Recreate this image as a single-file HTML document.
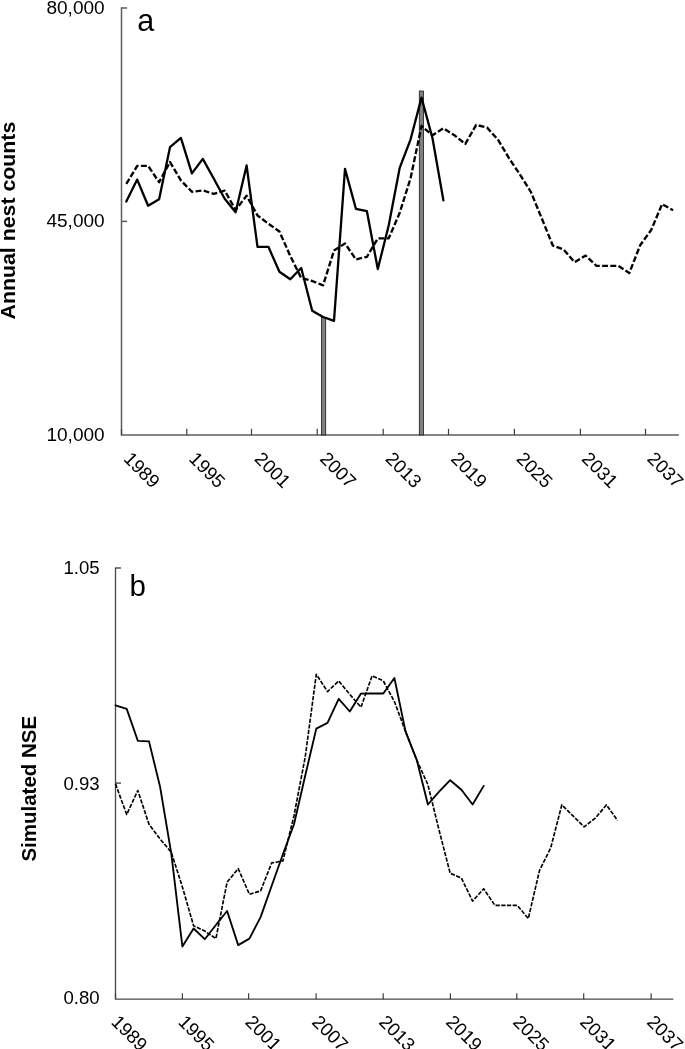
<!DOCTYPE html>
<html><head><meta charset="utf-8"><title>Figure</title>
<style>
html,body{margin:0;padding:0;background:#fff;}
svg{display:block}
text{font-family:"Liberation Sans",Arial,sans-serif;fill:#000}
</style></head><body>
<svg width="685" height="1049" viewBox="0 0 685 1049">
<rect width="685" height="1049" fill="#fff"/>

<g stroke="#5e5e5e" stroke-width="1.5" fill="none">
<path d="M121.5,7.3 V435.0 H678.8"/>
<path d="M121.5,8.0 h5.6"/>
<path d="M121.5,221.4 h5.6"/>
</g>
<g stroke="#3c3c3c" stroke-width="1.2" fill="none">
<path d="M121.5,435.0 v-6.2"/>
<path d="M186.8,435.0 v-6.2"/>
<path d="M251.5,435.0 v-6.2"/>
<path d="M317.2,435.0 v-6.2"/>
<path d="M383.2,435.0 v-6.2"/>
<path d="M448.5,435.0 v-6.2"/>
<path d="M514.4,435.0 v-6.2"/>
<path d="M580.4,435.0 v-6.2"/>
<path d="M645.5,435.0 v-6.2"/>
</g>
<rect x="321.40" y="317.5" width="4.3" height="117.5" fill="#808080" stroke="#1a1a1a" stroke-width="0.8"/>
<rect x="419.30" y="91.0" width="4.3" height="344.0" fill="#808080" stroke="#1a1a1a" stroke-width="0.8"/>
<polyline points="126.3,183.9 137.2,165.9 148.1,165.9 159.1,182.2 170.0,162.0 180.9,180.4 191.9,191.8 202.8,190.4 213.7,193.9 224.7,190.6 235.6,210.0 246.6,195.7 257.5,215.5 268.4,223.7 279.4,231.5 290.3,256.0 301.2,278.0 312.2,281.0 323.1,285.3 334.0,250.6 345.0,243.4 355.9,259.4 366.9,256.8 377.8,238.4 388.7,238.4 399.7,212.8 410.6,178.1 421.5,126.0 432.5,135.2 443.4,128.3 454.3,135.2 465.3,143.9 476.2,124.9 487.1,127.6 498.1,139.9 509.0,158.2 520.0,174.6 530.9,192.0 541.8,218.5 552.8,245.5 563.7,249.6 574.6,262.2 585.6,255.6 596.5,265.8 607.4,265.8 618.4,265.8 629.3,273.0 640.3,245.0 651.2,230.0 662.1,204.1 673.1,210.2" fill="none" stroke="#000" stroke-width="2.35" stroke-dasharray="5.9,2.35" stroke-linejoin="round"/>
<polyline points="126.3,201.5 137.2,179.6 148.1,205.8 159.1,199.2 170.0,147.2 180.9,137.9 191.9,173.4 202.8,158.9 213.7,178.5 224.7,198.7 235.6,212.2 246.6,165.4 257.5,246.8 268.4,246.8 279.4,271.8 290.3,279.2 301.2,268.0 312.2,310.7 323.1,317.0 334.0,320.9 345.0,168.9 355.9,208.8 366.9,211.2 377.8,269.0 388.7,225.5 399.7,167.9 410.6,139.3 421.5,97.6 432.5,138.2 443.4,200.4" fill="none" stroke="#000" stroke-width="2.3" stroke-linejoin="round" stroke-linecap="round"/>
<text transform="translate(104.6,13.7) scale(1.023,1)" font-size="18.6" text-anchor="end">80,000</text>
<text transform="translate(104.6,226.7) scale(1.023,1)" font-size="18.6" text-anchor="end">45,000</text>
<text transform="translate(104.6,440.6) scale(1.023,1)" font-size="18.6" text-anchor="end">10,000</text>
<text x="137.2" y="30.6" font-size="30.5">a</text>
<text transform="translate(15.1,220.6) rotate(-90) scale(1.04,1)" font-size="20.5" font-weight="bold" text-anchor="middle">Annual nest counts</text>
<text transform="translate(122.7,459.8) rotate(45)" font-size="18.67">1989</text>
<text transform="translate(188.1,459.8) rotate(45)" font-size="18.67">1995</text>
<text transform="translate(253.6,459.8) rotate(45)" font-size="18.67">2001</text>
<text transform="translate(319.0,459.8) rotate(45)" font-size="18.67">2007</text>
<text transform="translate(384.5,459.8) rotate(45)" font-size="18.67">2013</text>
<text transform="translate(449.9,459.8) rotate(45)" font-size="18.67">2019</text>
<text transform="translate(515.4,459.8) rotate(45)" font-size="18.67">2025</text>
<text transform="translate(580.8,459.8) rotate(45)" font-size="18.67">2031</text>
<text transform="translate(646.3,459.8) rotate(45)" font-size="18.67">2037</text>
<g stroke="#484848" stroke-width="1.3" fill="none">
<path d="M115.5,567.4 V999.2 H673.3"/>
<path d="M115.5,568.0 h5.5" stroke="#383838"/>
<path d="M115.5,783.1 h5.5" stroke="#383838"/>
</g>
<g stroke="#3c3c3c" stroke-width="1.2" fill="none">
<path d="M115.5,999.2 v-6"/>
<path d="M182.4,999.2 v-6"/>
<path d="M248.6,999.2 v-6"/>
<path d="M316.1,999.2 v-6"/>
<path d="M383.2,999.2 v-6"/>
<path d="M450.4,999.2 v-6"/>
<path d="M516.8,999.2 v-6"/>
<path d="M583.7,999.2 v-6"/>
<path d="M651.1,999.2 v-6"/>
</g>
<polyline points="115.5,783.9 126.7,814.5 137.8,790.5 149.0,824.3 160.1,839.0 171.3,852.3 182.4,887.0 193.6,925.8 204.8,931.1 215.9,938.6 227.1,882.2 238.2,868.6 249.4,894.3 260.6,890.9 271.7,862.9 282.9,860.9 294.0,815.7 305.2,757.1 316.3,674.3 327.5,691.6 338.7,680.9 349.8,694.4 361.0,707.2 372.1,675.8 383.3,680.9 394.4,701.5 405.6,731.6 416.8,760.2 427.9,784.7 439.1,830.3 450.2,873.3 461.4,878.1 472.6,901.1 483.7,888.8 494.9,905.3 506.0,905.3 517.2,905.3 528.3,918.5 539.5,870.5 550.7,847.9 561.8,804.9 573.0,815.9 584.1,826.9 595.3,818.1 606.5,804.9 617.6,820.6" fill="none" stroke="#000" stroke-width="1.65" stroke-dasharray="4.25,1.45" stroke-linejoin="round"/>
<polyline points="115.5,705.3 126.7,708.9 137.8,740.8 149.0,741.4 160.1,786.9 171.3,853.7 182.4,946.6 193.6,928.5 204.8,939.2 215.9,925.0 227.1,911.0 238.2,945.1 249.4,938.6 260.6,917.1 271.7,885.7 282.9,854.3 294.0,824.3 305.2,775.7 316.3,728.6 327.5,722.9 338.7,698.9 349.8,711.5 361.0,693.6 372.1,693.5 383.3,693.5 394.4,678.0 405.6,731.6 416.8,760.2 427.9,804.5 439.1,791.7 450.2,780.2 461.4,789.7 472.6,804.5 483.7,785.9" fill="none" stroke="#000" stroke-width="1.85" stroke-linejoin="round" stroke-linecap="round"/>
<text transform="translate(99.7,573.85)" font-size="18.6" text-anchor="end">1.05</text>
<text transform="translate(99.7,789.55)" font-size="18.6" text-anchor="end">0.93</text>
<text transform="translate(99.7,1004.25)" font-size="18.6" text-anchor="end">0.80</text>
<text x="129.5" y="595.8" font-size="29.5">b</text>
<text transform="translate(35.5,788.7) rotate(-90)" font-size="20.5" font-weight="bold" text-anchor="middle">Simulated NSE</text>
<text transform="translate(110.3,1022.9) rotate(45)" font-size="18.67">1989</text>
<text transform="translate(177.2,1022.9) rotate(45)" font-size="18.67">1995</text>
<text transform="translate(244.2,1022.9) rotate(45)" font-size="18.67">2001</text>
<text transform="translate(311.1,1022.9) rotate(45)" font-size="18.67">2007</text>
<text transform="translate(378.1,1022.9) rotate(45)" font-size="18.67">2013</text>
<text transform="translate(445.0,1022.9) rotate(45)" font-size="18.67">2019</text>
<text transform="translate(512.0,1022.9) rotate(45)" font-size="18.67">2025</text>
<text transform="translate(578.9,1022.9) rotate(45)" font-size="18.67">2031</text>
<text transform="translate(645.9,1022.9) rotate(45)" font-size="18.67">2037</text>
</svg></body></html>
